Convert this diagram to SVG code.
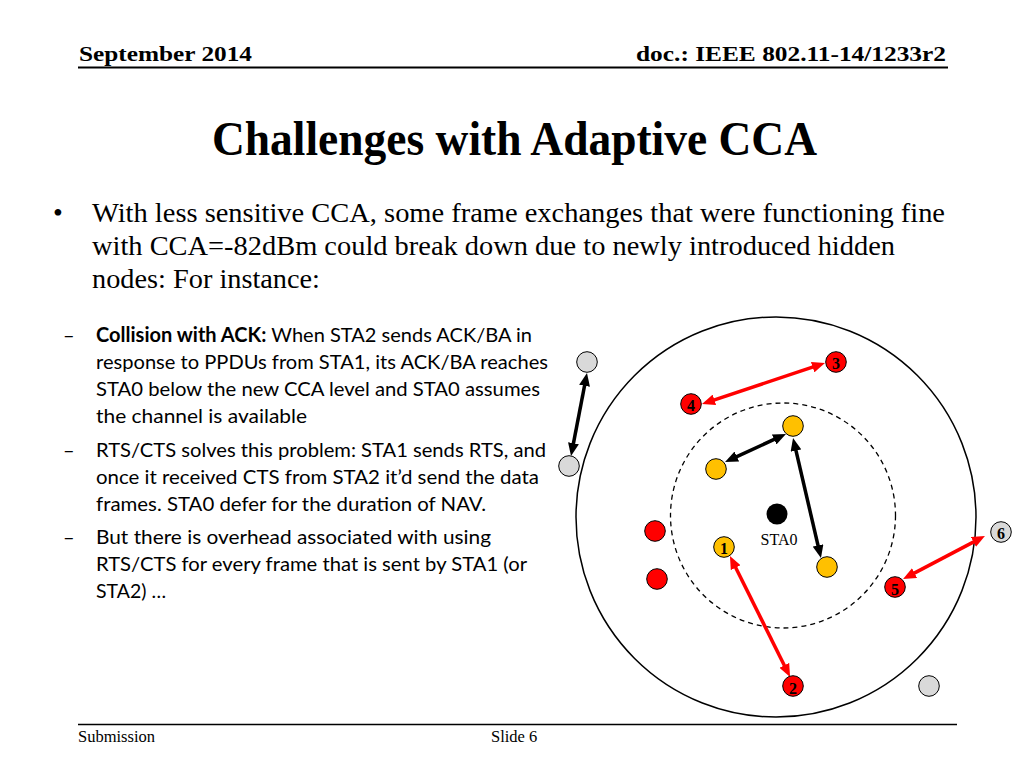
<svg xmlns="http://www.w3.org/2000/svg" width="1024" height="768" viewBox="0 0 1024 768">
<style>
.serif{font-family:"Liberation Serif","Times New Roman",serif;fill:#000}
.hdr{font-size:22px;font-weight:bold}
.title{font-size:49px;font-weight:bold}
.body{font-size:28px}
.sub{font-family:Lato,"Open Sans","Liberation Sans",sans-serif;font-size:20px;fill:#000}
.foot{font-size:16.5px}
.node{stroke:#000;stroke-width:1}
.gray{fill:#D9D9D9}
.red{fill:#FF0000}
.yel{fill:#FFC000}
.lbl{font-family:"Liberation Serif","Times New Roman",serif;font-size:16px;font-weight:bold;fill:#000;text-anchor:middle}
.blk{stroke:#000;stroke-width:3.5;fill:none;marker-start:url(#ab);marker-end:url(#ab)}
.rd{stroke:#FF0000;stroke-width:3.5;fill:none;marker-start:url(#ar);marker-end:url(#ar)}
</style>
<defs>
<marker id="ab" viewBox="0 0 13 11" markerWidth="13" markerHeight="11" markerUnits="userSpaceOnUse" refX="3" refY="5.5" orient="auto-start-reverse"><path d="M0,0 L13,5.5 L0,11 z" fill="#000"/></marker>
<marker id="ar" viewBox="0 0 13 11" markerWidth="13" markerHeight="11" markerUnits="userSpaceOnUse" refX="3" refY="5.5" orient="auto-start-reverse"><path d="M0,0 L13,5.5 L0,11 z" fill="#FF0000"/></marker>
</defs>
<rect width="1024" height="768" fill="#fff"/>
<g id="header">
<text class="serif hdr" x="79" y="61" textLength="173" lengthAdjust="spacingAndGlyphs">September 2014</text>
<text class="serif hdr" x="636" y="61" textLength="310" lengthAdjust="spacingAndGlyphs">doc.: IEEE 802.11-14/1233r2</text>
<line x1="78" y1="67.5" x2="948" y2="67.5" stroke="#000" stroke-width="2"/>
</g>
<text class="serif title" x="212" y="155" textLength="605" lengthAdjust="spacingAndGlyphs">Challenges with Adaptive CCA</text>
<g id="body">
<text class="serif body" x="53" y="222">•</text>
<text class="serif body" x="92" y="222" textLength="853" lengthAdjust="spacingAndGlyphs">With less sensitive CCA, some frame exchanges that were functioning fine</text>
<text class="serif body" x="92" y="255" textLength="803" lengthAdjust="spacingAndGlyphs">with CCA=-82dBm could break down due to newly introduced hidden</text>
<text class="serif body" x="92" y="288" textLength="228" lengthAdjust="spacingAndGlyphs">nodes: For instance:</text>
</g>
<g id="subbullets">
<text class="sub" x="63" y="342">–</text>
<text class="sub" x="96" y="342" textLength="436" lengthAdjust="spacingAndGlyphs"><tspan font-weight="bold">Collision with ACK:</tspan> When STA2 sends ACK/BA in</text>
<text class="sub" x="96" y="369" textLength="452" lengthAdjust="spacingAndGlyphs">response to PPDUs from STA1, its ACK/BA reaches</text>
<text class="sub" x="96" y="396" textLength="444" lengthAdjust="spacingAndGlyphs">STA0 below the new CCA level and STA0 assumes</text>
<text class="sub" x="96" y="423" textLength="211" lengthAdjust="spacingAndGlyphs">the channel is available</text>
<text class="sub" x="63" y="457">–</text>
<text class="sub" x="96" y="457" textLength="450" lengthAdjust="spacingAndGlyphs">RTS/CTS solves this problem: STA1 sends RTS, and</text>
<text class="sub" x="96" y="484" textLength="443" lengthAdjust="spacingAndGlyphs">once it received CTS from STA2 it’d send the data</text>
<text class="sub" x="96" y="511" textLength="390" lengthAdjust="spacingAndGlyphs">frames. STA0 defer for the duration of NAV.</text>
<text class="sub" x="63" y="544">–</text>
<text class="sub" x="96" y="544" textLength="395" lengthAdjust="spacingAndGlyphs">But there is overhead associated with using</text>
<text class="sub" x="96" y="571" textLength="431" lengthAdjust="spacingAndGlyphs">RTS/CTS for every frame that is sent by STA1 (or</text>
<text class="sub" x="96" y="598" textLength="70" lengthAdjust="spacingAndGlyphs">STA2) …</text>
</g>
<g id="ranges">
<circle cx="776" cy="517" r="200" fill="none" stroke="#000" stroke-width="1.5"/>
<circle cx="783" cy="515.5" r="112.5" fill="none" stroke="#000" stroke-width="1.3" stroke-dasharray="5,4"/>
</g>
<g id="connectors">
<line class="blk" x1="585.1" y1="382.8" x2="572.9" y2="446.2"/>
<line class="rd" x1="815.5" y1="366.2" x2="711.5" y2="400.8"/>
<line class="blk" x1="734.1" y1="457.8" x2="776.9" y2="438.2"/>
<line class="blk" x1="795.3" y1="447.7" x2="818.7" y2="548.3"/>
<line class="rd" x1="734.4" y1="565" x2="785.6" y2="668"/>
<line class="rd" x1="976.1" y1="540.6" x2="911.9" y2="574.4"/>
</g>
<g id="sta0">
<circle cx="777" cy="514" r="10.5" fill="#000"/>
<text class="serif" x="779" y="545" font-size="16" text-anchor="middle">STA0</text>
</g>
<g id="gray-a"><circle class="node gray" cx="587" cy="362" r="10.3"/></g>
<g id="gray-b"><circle class="node gray" cx="569" cy="466" r="10.3"/></g>
<g id="gray-c"><circle class="node gray" cx="929" cy="686" r="10.3"/></g>
<g id="node6"><circle class="node gray" cx="1001" cy="532" r="10.3"/><text class="lbl" x="1001" y="539">6</text></g>
<g id="node3"><circle class="node red" cx="836" cy="362" r="10.3"/><text class="lbl" x="836" y="369">3</text></g>
<g id="node4"><circle class="node red" cx="691" cy="404" r="10.3"/><text class="lbl" x="691" y="411">4</text></g>
<g id="red-a"><circle class="node red" cx="655" cy="531" r="10.3"/></g>
<g id="red-b"><circle class="node red" cx="657" cy="579" r="10.3"/></g>
<g id="node5"><circle class="node red" cx="895" cy="587" r="10.3"/><text class="lbl" x="895" y="595">5</text></g>
<g id="node2"><circle class="node red" cx="793" cy="686" r="10.3"/><text class="lbl" x="793" y="694">2</text></g>
<g id="yel-top"><circle class="node yel" cx="793" cy="426" r="10.3"/></g>
<g id="yel-left"><circle class="node yel" cx="716" cy="469" r="10.3"/></g>
<g id="node1"><circle class="node yel" cx="724" cy="547" r="10.3"/><text class="lbl" x="724" y="554">1</text></g>
<g id="yel-br"><circle class="node yel" cx="827" cy="567" r="10.3"/></g>
<g id="footer">
<line x1="78" y1="724.5" x2="957" y2="724.5" stroke="#000" stroke-width="1.5"/>
<text class="serif foot" x="78" y="742">Submission</text>
<text class="serif foot" x="491" y="742">Slide 6</text>
</g>
</svg>
